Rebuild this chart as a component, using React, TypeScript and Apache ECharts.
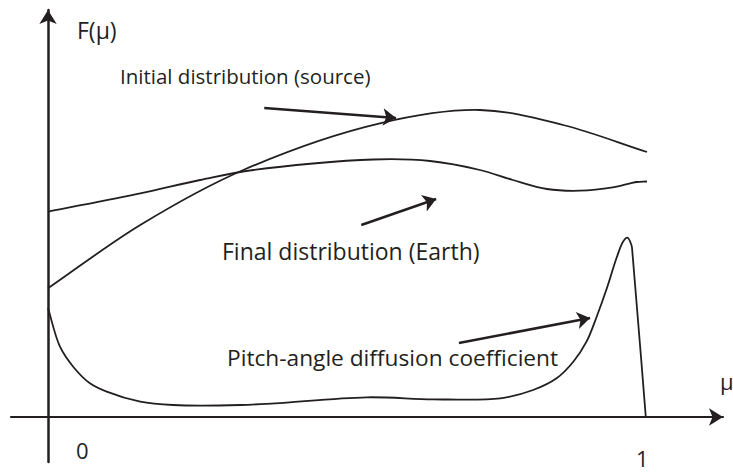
import React, { useEffect, useRef } from "react";
import * as echarts from "echarts";

// Initial distribution (source)
const initialMu = [0, 0.154, 0.326, 0.554, 0.721, 0.86, 1.0];
const initialF = [1.287, 1.92, 2.47, 2.937, 3.07, 2.92, 2.65];

// Final distribution (Earth)
const finalMu = [0, 0.154, 0.254, 0.343, 0.543, 0.638, 0.721, 0.776, 0.833, 0.888, 0.943, 0.972, 0.983, 1.0];
const finalF = [2.053, 2.237, 2.37, 2.47, 2.575, 2.56, 2.47, 2.37, 2.28, 2.263, 2.297, 2.337, 2.35, 2.355];

// Pitch-angle diffusion coefficient
const pitchMu = [0, 0.02, 0.042, 0.07, 0.098, 0.154, 0.209, 0.321, 0.379, 0.532, 0.643, 0.755, 0.81, 0.849, 0.877, 0.899, 0.916, 0.933, 0.949, 0.96, 0.967, 0.974, 0.976, 0.998];
const pitchF = [1.087, 0.703, 0.503, 0.337, 0.253, 0.153, 0.12, 0.12, 0.137, 0.197, 0.177, 0.187, 0.27, 0.387, 0.553, 0.753, 1.003, 1.287, 1.587, 1.753, 1.793, 1.72, 1.62, 0];

// Annotation arrows: [startMu, startF, endMu, endF]
const arrowInitial = [0.361, 3.09, 0.581, 2.99];
const arrowFinal = [0.523, 1.92, 0.648, 2.18];
const arrowPitch = [0.686, 0.74, 0.905, 0.99];

// Boundary mu = 1 (dotted line)
const boundaryMu = 1;
const boundaryTop = 4.17;

// Axis extents
const muMin = -0.0618;
const muMax = 1.1269;
const fMin = -0.45;
const fMax = 4.07;

const labels = {
  yName: "F(μ)",
  xName: "μ",
  initial: "Initial distribution (source)",
  final: "Final distribution (Earth)",
  pitch: "Pitch-angle diffusion coefficient",
  zero: "0",
  one: "1",
};

const INK = "#231f20";
const FONT = "'Open Sans', 'Noto Sans', 'DejaVu Sans', sans-serif";

const pairs = (xs: number[], ys: number[]) => xs.map((x, i) => [x, ys[i]]);

// Centripetal Catmull-Rom through pixel points, as cubic Bezier path data
function splinePath(p: number[][]): string {
  const n = p.length;
  if (n < 2) return "";
  const get = (i: number) => {
    if (i < 0) return [2 * p[0][0] - p[1][0], 2 * p[0][1] - p[1][1]];
    if (i >= n) return [2 * p[n - 1][0] - p[n - 2][0], 2 * p[n - 1][1] - p[n - 2][1]];
    return p[i];
  };
  const dist = (a: number[], b: number[]) => Math.max(1e-6, Math.pow(Math.hypot(a[0] - b[0], a[1] - b[1]), 0.5));
  let d = `M${p[0][0]},${p[0][1]}`;
  for (let i = 0; i < n - 1; i++) {
    const p0 = get(i - 1), p1 = get(i), p2 = get(i + 1), p3 = get(i + 2);
    const d1 = dist(p0, p1), d2 = dist(p1, p2), d3 = dist(p2, p3);
    const c1 = [0, 1].map(
      (k) => (d1 * d1 * p2[k] - d2 * d2 * p0[k] + (2 * d1 * d1 + 3 * d1 * d2 + d2 * d2) * p1[k]) / (3 * d1 * (d1 + d2))
    );
    const c2 = [0, 1].map(
      (k) => (d3 * d3 * p1[k] - d2 * d2 * p3[k] + (2 * d3 * d3 + 3 * d3 * d2 + d2 * d2) * p2[k]) / (3 * d3 * (d3 + d2))
    );
    d += ` C${c1[0]},${c1[1]} ${c2[0]},${c2[1]} ${p2[0]},${p2[1]}`;
  }
  return d;
}

export default function App() {
  const ref = useRef<HTMLDivElement>(null);
  useEffect(() => {
    if (!ref.current) return;
    const chart = echarts.init(ref.current, undefined, { renderer: "svg" });
    const arrow = (a: number[]) => [{ coord: [a[0], a[1]] }, { coord: [a[2], a[3]] }];
    const curve = (name: string, xs: number[], ys: number[]) => ({
      type: "custom",
      name,
      coordinateSystem: "cartesian2d",
      data: pairs(xs, ys),
      encode: { x: 0, y: 1 },
      clip: false,
      renderItem: (params: any, api: any) => {
        if (params.dataIndex !== 0) return null;
        const pts = xs.map((x, i) => api.coord([x, ys[i]]));
        return {
          type: "path",
          shape: { pathData: splinePath(pts) },
          style: { fill: "none", stroke: INK, lineWidth: 1.8 },
        };
      },
    });
    const txt = (text: string, x: number, y: number, size: number) => ({
      type: "text",
      x,
      y,
      style: {
        text,
        fill: INK,
        font: `${size}px ${FONT}`,
        textAlign: "left",
        textVerticalAlign: "middle",
      },
    });
    chart.setOption({
      animation: false,
      backgroundColor: "#ffffff",
      grid: { left: 11, right: 10, top: 10, bottom: 10 },
      xAxis: {
        type: "value",
        min: muMin,
        max: muMax,
        axisLine: {
          show: true,
          onZero: true,
          symbol: ["none", "arrow"],
          symbolSize: [13, 14],
          lineStyle: { color: INK, width: 2.2 },
        },
        axisTick: { show: false },
        axisLabel: { show: false },
        splitLine: { show: false },
      },
      yAxis: {
        type: "value",
        min: fMin,
        max: fMax,
        axisLine: {
          show: true,
          onZero: true,
          symbol: ["none", "arrow"],
          symbolSize: [13, 14],
          lineStyle: { color: INK, width: 2.5 },
        },
        axisTick: { show: false },
        axisLabel: { show: false },
        splitLine: { show: false },
      },
      series: [
        {
          type: "line",
          name: "boundary",
          data: [],
          clip: false,
          markLine: {
            silent: true,
            symbol: "none",
            label: { show: false },
            lineStyle: { type: "dotted", color: "#a8a8a8", width: 1.5 },
            data: [[{ coord: [boundaryMu, 0] }, { coord: [boundaryMu, boundaryTop] }]],
          },
        },
        curve(labels.initial, initialMu, initialF),
        curve(labels.final, finalMu, finalF),
        curve(labels.pitch, pitchMu, pitchF),
        {
          type: "line",
          name: "arrows",
          data: [],
          markLine: {
            silent: true,
            symbol: ["none", "arrow"],
            symbolSize: 13,
            label: { show: false },
            lineStyle: { type: "solid", color: INK, width: 2.5 },
            data: [arrow(arrowInitial), arrow(arrowFinal), arrow(arrowPitch)],
          },
        },
      ],
      graphic: [
        txt(labels.yName, 77, 30, 23),
        txt(labels.initial, 120, 76, 20.5),
        txt(labels.final, 222, 251, 23),
        txt(labels.pitch, 227, 357, 22.7),
        txt(labels.xName, 720, 381, 22),
        txt(labels.zero, 76, 450, 22),
        txt(labels.one, 636, 458, 22),
      ],
    });
    return () => chart.dispose();
  }, []);
  return (
    <div
      ref={ref}
      style={{ position: "fixed", left: 0, top: 0, width: 733, height: 472, background: "#fff" }}
    />
  );
}
